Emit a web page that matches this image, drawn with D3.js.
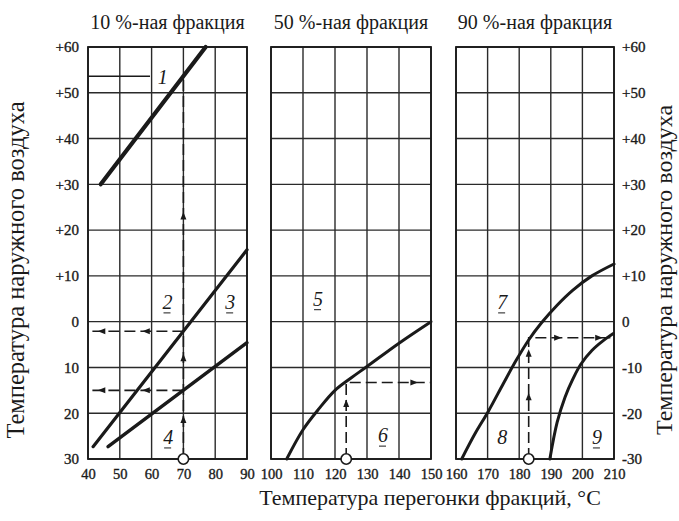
<!DOCTYPE html>
<html><head><meta charset="utf-8">
<script src="https://cdn.jsdelivr.net/npm/d3@7"></script>
<style>
body{margin:0;background:#fff}
svg{display:block;font-family:"Liberation Serif","Times New Roman",serif}
text{font-family:"Liberation Serif","Times New Roman",serif;fill:#1a1a1a}
</style>
</head><body>
<svg id="chart" width="679" height="521"></svg>
<script>
// Outside air temperature scale (shared by all three panels)
const tempTicks = [60, 50, 40, 30, 20, 10, 0, -10, -20, -30];
const leftTickLabels = ["+60", "+50", "+40", "+30", "+20", "+10", "0", "10", "20", "30"];
const rightTickLabels = ["+60", "+50", "+40", "+30", "+20", "+10", "0", "-10", "-20", "-30"];

// Distillation temperature ticks per fraction
const panelTitles = ["10 %-ная фракция", "50 %-ная фракция", "90 %-ная фракция"];
const ticks10 = [40, 50, 60, 70, 80, 90];
const ticks50 = [100, 110, 120, 130, 140, 150];
const ticks90 = [160, 170, 180, 190, 200, 210];

// Curves: [distillation °C, outside air °C]
const line1 = [[44, 30], [77, 60]];
const line2 = [[41.6, -27.3], [90, 15.7]];
const line3 = [[46.3, -27.3], [90, -4.6]];
const curve5 = [[104.9, -30], [110, -23.6], [115, -19], [120, -15], [125, -12.3], [130, -9.8], [140, -4.7], [150, 0]];
const curve7 = [[161.8, -30], [166, -24.5], [170.3, -19.5], [175, -13.5], [179, -8.5], [183, -4], [187, -0.3], [192, 3.6], [197, 6.9], [203, 10], [210, 12.6]];
const curve9 = [[189.7, -30], [192, -22], [194.5, -16.5], [197, -12.5], [199.5, -9.3], [203, -6.3], [206.5, -4.2], [209.8, -2.6]];

// Worked examples: starting distillation temperature and the readings
const example10 = {x: 70, top: 53.6, levels: [-2.1, -15]};
const example50 = {x: 123.5, level: -13.3};
const example90 = {x: 183, level: -3.5};

// Curve number labels: [panel, x, y, text]
const curveLabels = [
  [0, 63.5, 53.3, "1"], [0, 65, 4.1, "2"], [0, 84.7, 4.1, "3"], [0, 65.2, -25.4, "4"],
  [1, 114.7, 4.8, "5"], [1, 135, -25, "6"],
  [2, 174.6, 4.1, "7"], [2, 174.6, -25.4, "8"], [2, 204.6, -25.4, "9"]
];

const svg = d3.select("#chart");
const plotTop = 47, plotBottom = 459;
const y = d3.scaleLinear().domain([-30, 60]).range([plotBottom, plotTop]);

const panels = [
  {x: d3.scaleLinear().domain([40, 90]).range([88, 247]), ticks: ticks10},
  {x: d3.scaleLinear().domain([100, 150]).range([271, 431]), ticks: ticks50},
  {x: d3.scaleLinear().domain([160, 210]).range([456, 614]), ticks: ticks90}
];

const ink = "#1a1a1a";
const serif = "'Liberation Serif', 'Times New Roman', serif";

panels.forEach((p, i) => {
  const g = svg.append("g");
  const [x0, x1] = p.x.range();
  // grid
  g.selectAll(".v").data(p.ticks).join("line")
    .attr("x1", d => p.x(d)).attr("x2", d => p.x(d))
    .attr("y1", plotTop).attr("y2", plotBottom)
    .attr("stroke", "#2a2a2a").attr("stroke-width", 1.4);
  g.selectAll(".h").data(tempTicks).join("line")
    .attr("x1", x0).attr("x2", x1)
    .attr("y1", d => y(d)).attr("y2", d => y(d))
    .attr("stroke", "#2a2a2a").attr("stroke-width", 1.4);
  g.append("rect").attr("x", x0).attr("y", plotTop)
    .attr("width", x1 - x0).attr("height", plotBottom - plotTop)
    .attr("fill", "none").attr("stroke", ink).attr("stroke-width", 1.8);

  // bottom axis
  const ax = g.append("g").attr("transform", `translate(0,${plotBottom + 6})`)
    .call(d3.axisBottom(p.x).tickValues(p.ticks).tickSize(0).tickPadding(4));
  ax.attr("font-family", serif);
  ax.select(".domain").remove();
  ax.selectAll("text").style("font-family", serif)
    .style("font-size", "14.5px").attr("fill", ink)
    .attr("stroke", ink).attr("stroke-width", 0.35);

  // title
  svg.append("text").attr("x", (x0 + x1) / 2).attr("y", 29)
    .attr("text-anchor", "middle").style("font-size", "20px")
    .text(panelTitles[i]);
});

// left / right temperature axes
const axL = svg.append("g").attr("transform", "translate(79,0)")
  .call(d3.axisLeft(y).tickValues(tempTicks).tickSize(0).tickPadding(0)
    .tickFormat((d, i) => leftTickLabels[i]));
const axR = svg.append("g").attr("transform", "translate(622,0)")
  .call(d3.axisRight(y).tickValues(tempTicks).tickSize(0).tickPadding(0)
    .tickFormat((d, i) => rightTickLabels[i]));
[axL, axR].forEach(a => {
  a.attr("font-family", serif);
  a.select(".domain").remove();
  a.selectAll("text").style("font-family", serif)
    .style("font-size", "15px").attr("fill", ink)
    .attr("stroke", ink).attr("stroke-width", 0.35);
});

// axis titles
svg.append("text").attr("transform", "translate(24,270) rotate(-90)")
  .attr("text-anchor", "middle").style("font-size", "24.5px")
  .text("Температура наружного воздуха");
svg.append("text").attr("transform", "translate(672,270) rotate(-90)")
  .attr("text-anchor", "middle").style("font-size", "24px")
  .text("Температура наружного воздуха");
svg.append("text").attr("x", 430).attr("y", 505)
  .attr("text-anchor", "middle").style("font-size", "22px")
  .text("Температура перегонки фракций, °C");

// curves
function drawCurve(p, data, w, curve) {
  svg.append("path").datum(data)
    .attr("d", d3.line().x(d => p.x(d[0])).y(d => y(d[1])).curve(curve || d3.curveLinear))
    .attr("fill", "none").attr("stroke", ink).attr("stroke-width", w)
    .attr("stroke-linecap", "round");
}
drawCurve(panels[0], line1, 4.2);
drawCurve(panels[0], line2, 3.2);
drawCurve(panels[0], line3, 3.4);
drawCurve(panels[1], curve5, 3, d3.curveCatmullRom);
drawCurve(panels[2], curve7, 3, d3.curveCatmullRom);
drawCurve(panels[2], curve9, 3, d3.curveCatmullRom);

// dashed reading lines
function dashed(p, pts) {
  svg.append("path").datum(pts)
    .attr("d", d3.line().x(d => p.x(d[0])).y(d => y(d[1])))
    .attr("fill", "none").attr("stroke", ink).attr("stroke-width", 1.6)
    .attr("stroke-dasharray", "11,5");
}
function arrow(p, xv, yv, angle) {
  svg.append("path").attr("d", "M0,-4.5L3,3L-3,3Z")
    .attr("transform", `translate(${p.x(xv)},${y(yv)}) rotate(${angle})`)
    .attr("fill", ink);
}
function startCircle(p, xv) {
  svg.append("circle").attr("cx", p.x(xv)).attr("cy", y(-30)).attr("r", 5.2)
    .attr("fill", "#fff").attr("stroke", ink).attr("stroke-width", 1.6);
}

// 10 % fraction
const P0 = panels[0];
dashed(P0, [[example10.x, -30], [example10.x, example10.top]]);
example10.levels.forEach(l => dashed(P0, [[example10.x, l], [40, l]]));
svg.append("line").attr("x1", P0.x(40)).attr("x2", P0.x(59.5))
  .attr("y1", y(example10.top)).attr("y2", y(example10.top))
  .attr("stroke", ink).attr("stroke-width", 1.6);
arrow(P0, example10.x, 23, 0);
arrow(P0, example10.x, -8, 0);
arrow(P0, example10.x, -21.5, 0);
example10.levels.forEach(l => { arrow(P0, 44.5, l, -90); arrow(P0, 58.5, l, -90); });
startCircle(P0, example10.x);

// 50 % fraction
const P1 = panels[1];
dashed(P1, [[example50.x, -30], [example50.x, example50.level], [150, example50.level]]);
arrow(P1, example50.x, -18, 0);
arrow(P1, 144.5, example50.level, 90);
startCircle(P1, example50.x);

// 90 % fraction
const P2 = panels[2];
dashed(P2, [[example90.x, -30], [example90.x, example90.level], [210, example90.level]]);
arrow(P2, example90.x, -16.5, 0);
arrow(P2, example90.x, -7, 0);
arrow(P2, 192, example90.level, 90);
arrow(P2, 205, example90.level, 90);
startCircle(P2, example90.x);

// curve numbers
curveLabels.forEach(([pi, xv, yv, t]) => {
  const p = panels[pi];
  const tx = p.x(xv), ty = y(yv);
  if (t === "7" || t === "3") {
    svg.append("rect").attr("x", tx - 7).attr("y", ty - 11).attr("width", 14).attr("height", 22)
      .attr("fill", "#fff");
  }
  svg.append("text").attr("x", tx).attr("y", ty + 6)
    .attr("text-anchor", "middle").style("font-size", "20px").style("font-style", "italic")
    .text(t);
  if (t !== "1" && t !== "8") {
    svg.append("line").attr("x1", tx - 4).attr("x2", tx + 3)
      .attr("y1", ty + 10).attr("y2", ty + 10)
      .attr("stroke", ink).attr("stroke-width", 1);
  }
});
</script>
</body></html>
